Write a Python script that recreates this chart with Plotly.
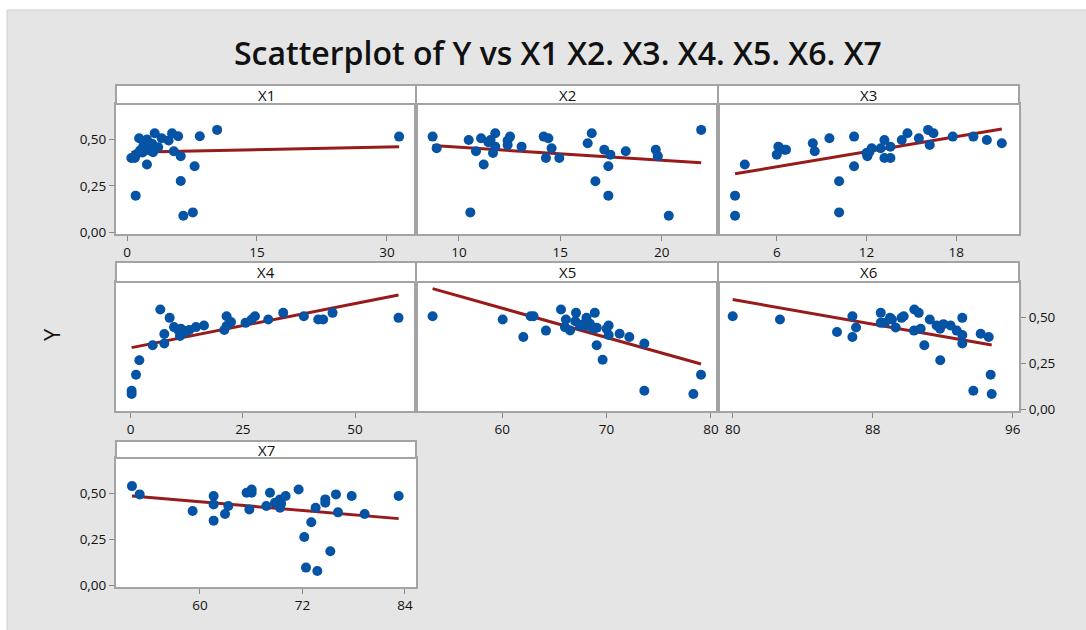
import plotly.graph_objects as go

# ---------------- data ----------------
x1 = [0.5, 0.9, 1.0, 1.1, 1.4, 1.5, 1.7, 1.9, 2.3, 2.3, 2.6, 2.9, 3.0, 3.2, 3.6, 4.0,
      4.8, 5.2, 5.4, 5.9, 6.2, 6.2, 6.5, 7.6, 7.8, 8.4, 10.4, 31.4, 2.0, 2.5, 3.3, 1.8]
y1 = [0.40, 0.40, 0.198, 0.42, 0.506, 0.44, 0.44, 0.467, 0.499, 0.365, 0.44, 0.476,
      0.431, 0.533, 0.458, 0.506, 0.494, 0.533, 0.436, 0.517, 0.41, 0.277, 0.09, 0.108,
      0.356, 0.517, 0.551, 0.515, 0.45, 0.46, 0.45, 0.43]

x2 = [8.70, 8.90, 10.48, 10.84, 10.56, 11.09, 11.22, 11.45, 11.56, 11.79, 11.79, 11.68,
      12.52, 12.40, 12.40, 13.09, 14.18, 14.41, 14.57, 14.29, 14.95, 16.55, 16.35, 16.73,
      17.17, 17.47, 17.37, 17.37, 18.23, 19.71, 19.81, 20.35, 21.95]
y2 = [0.515, 0.452, 0.497, 0.436, 0.108, 0.506, 0.365, 0.485, 0.497, 0.533, 0.461, 0.427,
      0.515, 0.494, 0.470, 0.461, 0.515, 0.506, 0.452, 0.400, 0.400, 0.533, 0.479, 0.275,
      0.444, 0.418, 0.356, 0.198, 0.436, 0.444, 0.410, 0.090, 0.551]

x3 = [3.21, 3.21, 3.86, 6.11, 6.00, 6.62, 6.50, 8.41, 8.54, 9.52, 10.17, 10.17, 11.17,
      11.17, 12.06, 12.20, 12.35, 12.00, 12.95, 13.20, 13.20, 13.60, 13.60, 14.36, 14.74,
      15.50, 16.12, 16.48, 16.23, 17.77, 19.15, 20.05, 21.05]
y3 = [0.198, 0.090, 0.365, 0.461, 0.418, 0.444, 0.444, 0.479, 0.436, 0.506, 0.275, 0.108,
      0.515, 0.356, 0.410, 0.434, 0.452, 0.427, 0.452, 0.497, 0.400, 0.461, 0.400, 0.497,
      0.533, 0.506, 0.551, 0.533, 0.470, 0.515, 0.515, 0.497, 0.479]

x4 = [0.2, 0.2, 1.18, 1.92, 4.9, 6.6, 7.49, 7.49, 8.68, 9.65, 10.6, 10.98, 11.7, 12.47,
      13.06, 11.2, 14.55, 16.33, 21.38, 20.86, 21.38, 22.35, 25.6, 26.95, 27.7, 30.67,
      34.0, 38.6, 41.8, 42.9, 45.0, 59.7]
y4 = [0.102, 0.084, 0.188, 0.267, 0.348, 0.541, 0.357, 0.409, 0.496, 0.446, 0.43, 0.398,
      0.414, 0.425, 0.43, 0.437, 0.446, 0.455, 0.505, 0.43, 0.452, 0.473, 0.469, 0.487,
      0.505, 0.487, 0.523, 0.505, 0.487, 0.487, 0.523, 0.496]

x5 = [53.32, 60.04, 62.02, 62.72, 63.0, 64.19, 65.63, 66.1, 66.0, 66.5, 67.07, 67.0,
      67.7, 68.07, 68.4, 68.87, 69.06, 68.73, 69.05, 69.62, 70.0, 70.2, 70.2, 71.25,
      72.18, 73.62, 73.62, 78.32, 79.05, 67.45, 68.1]
y5 = [0.505, 0.487, 0.392, 0.505, 0.505, 0.427, 0.541, 0.487, 0.446, 0.428, 0.523, 0.478,
      0.46, 0.496, 0.464, 0.523, 0.442, 0.437, 0.348, 0.269, 0.437, 0.455, 0.403, 0.41,
      0.392, 0.357, 0.102, 0.084, 0.188, 0.452, 0.452]

x6 = [80.0, 82.7, 85.96, 86.84, 86.84, 87.05, 88.46, 88.46, 88.7, 88.99, 89.1, 89.31,
      89.65, 89.77, 90.38, 90.63, 90.36, 90.74, 90.95, 91.26, 91.65, 91.85, 92.04, 91.86,
      92.45, 92.8, 93.12, 93.12, 93.12, 93.75, 94.17, 94.63, 94.74, 94.8]
y6 = [0.505, 0.487, 0.419, 0.505, 0.392, 0.444, 0.523, 0.469, 0.469, 0.496, 0.487, 0.444,
      0.496, 0.505, 0.541, 0.523, 0.427, 0.437, 0.348, 0.487, 0.455, 0.437, 0.462, 0.267,
      0.455, 0.427, 0.496, 0.403, 0.357, 0.102, 0.41, 0.392, 0.188, 0.084]

x7 = [52.04, 52.94, 59.14, 61.6, 61.6, 61.6, 62.93, 63.32, 65.46, 66.05, 66.05, 65.78,
      67.77, 68.2, 68.78, 69.37, 69.37, 69.5, 70.03, 71.55, 72.21, 72.41, 73.03, 73.54,
      73.74, 74.67, 74.67, 75.26, 75.92, 76.16, 77.76, 79.28, 83.26]
y7 = [0.538, 0.493, 0.403, 0.484, 0.439, 0.351, 0.387, 0.43, 0.502, 0.52, 0.502, 0.412,
      0.43, 0.502, 0.448, 0.466, 0.421, 0.443, 0.484, 0.52, 0.263, 0.097, 0.342, 0.421,
      0.079, 0.466, 0.448, 0.185, 0.493, 0.396, 0.484, 0.387, 0.484]

# fitted regression lines (end points)
fit_x1, fit_y1 = [0.5, 31.4], [0.431, 0.461]
fit_x2, fit_y2 = [8.7, 21.95], [0.467, 0.374]
fit_x3, fit_y3 = [3.21, 21.05], [0.315, 0.556]
fit_x4, fit_y4 = [0.2, 59.7], [0.335, 0.62]
fit_x5, fit_y5 = [53.32, 79.05], [0.654, 0.246]
fit_x6, fit_y6 = [80.0, 94.8], [0.595, 0.349]
fit_x7, fit_y7 = [52.04, 83.26], [0.484, 0.362]

panel_names = ["X1", "X2", "X3", "X4", "X5", "X6", "X7"]
x_ticks = [[0, 15, 30], [10, 15, 20], [6, 12, 18], [0, 25, 50],
           [60, 70, 80], [80, 88, 96], [60, 72, 84]]
y_ticks = [0.0, 0.25, 0.50]
title_text = "Scatterplot of Y vs X1 X2. X3. X4. X5. X6. X7"
y_title = "Y"

# ---------------- layout geometry ----------------
W, H = 1086, 630
col_px = [(116, 416), (416, 718), (718, 1019)]
row_px = [(85, 104, 234), (262, 282, 411), (441, 458, 587)]  # header top, plot top, plot bottom
x_ranges = [[-1.27, 33.35], [7.88, 22.78], [2.07, 22.2], [-3.28, 63.6],
            [51.73, 80.68], [79.16, 96.36], [50.17, 85.29]]
y_range = [-0.008, 0.69]
y_side = ["left", None, None, None, None, "right", "left"]

FONT = "Open Sans"
BORDER = "#a3a3a3"
MARKER = "#0553a5"
LINE = "#981b1b"

xs = [x1, x2, x3, x4, x5, x6, x7]
ys = [y1, y2, y3, y4, y5, y6, y7]
fxs = [fit_x1, fit_x2, fit_x3, fit_x4, fit_x5, fit_x6, fit_x7]
fys = [fit_y1, fit_y2, fit_y3, fit_y4, fit_y5, fit_y6, fit_y7]

fig = go.Figure()
layout = {}
shapes = []
annotations = []

for i in range(7):
    r, c = divmod(i, 3)
    n = "" if i == 0 else str(i + 1)
    xl, xr = col_px[c]
    ht, pt, pb = row_px[r]
    fig.add_trace(go.Scatter(x=fxs[i], y=fys[i], mode="lines",
                             line=dict(color=LINE, width=3),
                             xaxis="x" + n, yaxis="y" + n, showlegend=False,
                             hoverinfo="skip"))
    fig.add_trace(go.Scatter(x=xs[i], y=ys[i], mode="markers",
                             marker=dict(color=MARKER, size=10, line=dict(width=0)),
                             xaxis="x" + n, yaxis="y" + n, showlegend=False))
    layout["xaxis" + n] = dict(
        domain=[xl / W, xr / W], range=x_ranges[i], anchor="y" + n,
        tickvals=x_ticks[i], ticks="outside", ticklen=5, tickwidth=1,
        tickcolor="#888888", showgrid=False, zeroline=False,
        showline=True, mirror=True, linecolor=BORDER, linewidth=2,
        tickfont=dict(family=FONT, size=13.5, color="#111111"), automargin=False)
    side = y_side[i]
    layout["yaxis" + n] = dict(
        domain=[1 - pb / H, 1 - pt / H], range=y_range, anchor="x" + n,
        tickvals=y_ticks, tickformat=".2f",
        ticks="outside" if side else "", ticklen=5, tickwidth=1, tickcolor="#888888",
        showticklabels=bool(side), side=side or "left",
        showgrid=False, zeroline=False, showline=True, mirror=True,
        linecolor=BORDER, linewidth=2,
        tickfont=dict(family=FONT, size=13.5, color="#111111"), automargin=False)
    shapes.append(dict(type="rect", xref="paper", yref="paper",
                       x0=xl / W, x1=xr / W, y0=1 - pt / H, y1=1 - ht / H,
                       fillcolor="white", line=dict(color=BORDER, width=2)))
    annotations.append(dict(text=panel_names[i], xref="paper", yref="paper",
                            x=(xl + xr) / 2 / W, y=1 - (ht + pt) / 2 / H,
                            showarrow=False, xanchor="center", yanchor="middle",
                            font=dict(family=FONT, size=15, color="#111111")))

# white outer border (top and left)
shapes.append(dict(type="rect", xref="paper", yref="paper", x0=0, x1=1,
                   y0=1 - 10 / H, y1=1.01, fillcolor="white", line=dict(width=0)))
shapes.append(dict(type="rect", xref="paper", yref="paper", x0=-0.01, x1=7 / W,
                   y0=-0.01, y1=1.01, fillcolor="white", line=dict(width=0)))
shapes.append(dict(type="line", xref="paper", yref="paper", x0=7 / W, x1=1,
                   y0=1 - 10 / H, y1=1 - 10 / H, line=dict(color="#cfcfcf", width=1)))
shapes.append(dict(type="line", xref="paper", yref="paper", x0=7 / W, x1=7 / W,
                   y0=0, y1=1 - 10 / H, line=dict(color="#cfcfcf", width=1)))

annotations.append(dict(text=title_text, xref="paper", yref="paper",
                        x=558 / W, y=1 - 52 / H, showarrow=False,
                        xanchor="center", yanchor="middle",
                        font=dict(family=FONT, size=32, color="#111111", weight=600)))
annotations.append(dict(text=y_title, xref="paper", yref="paper",
                        x=51 / W, y=1 - 335 / H, showarrow=False, textangle=-90,
                        xanchor="center", yanchor="middle",
                        font=dict(family=FONT, size=22, color="#111111")))

fig.update_layout(width=W, height=H, margin=dict(l=0, r=0, t=0, b=0),
                  paper_bgcolor="#e5e5e5", plot_bgcolor="white",
                  separators=",.", shapes=shapes, annotations=annotations,
                  showlegend=False, **layout)

fig.write_html("out.html", config={"displayModeBar": False},
               post_script="document.body.style.margin='0';")
